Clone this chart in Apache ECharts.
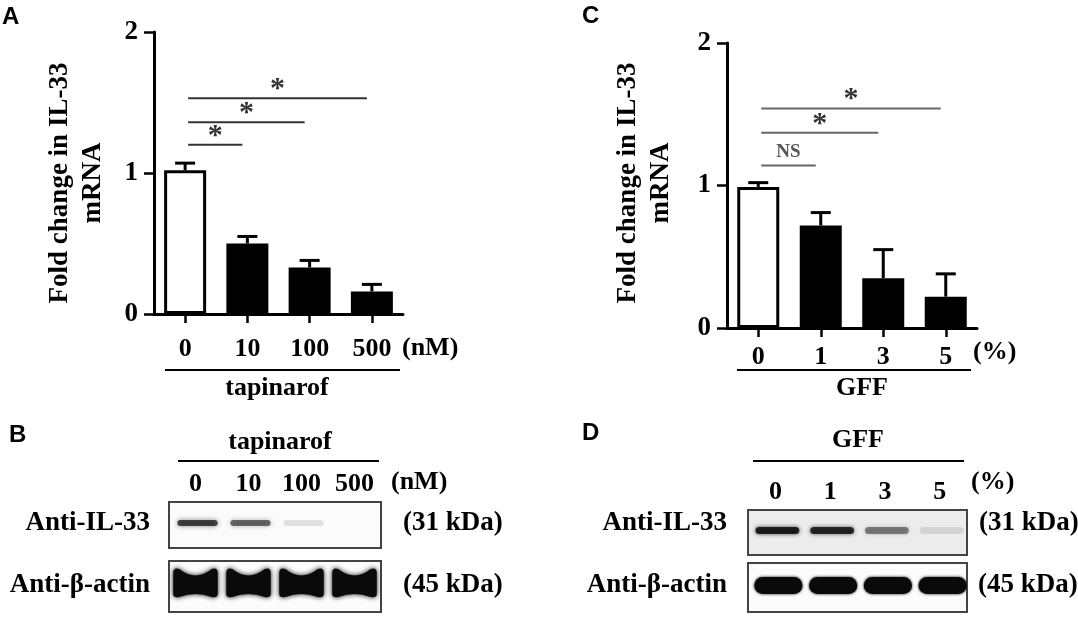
<!DOCTYPE html>
<html><head><meta charset="utf-8">
<script src="https://cdn.jsdelivr.net/npm/echarts@6.0.0/dist/echarts.min.js"></script>
<style>html,body{margin:0;padding:0;background:#fff}#c{width:1078px;height:624px}</style>
</head><body><div id="c"></div>
<script>
// ---- data ----
const catsA = ['0', '10', '100', '500'];
const meanA = [1.02, 0.50, 0.33, 0.16];
const semA = [0.05, 0.05, 0.05, 0.05];
const sigA = [[0, 1, 1.20, '*'], [0, 2, 1.36, '*'], [0, 3, 1.53, '*']];
const catsC = ['0', '1', '3', '5'];
const meanC = [0.99, 0.72, 0.35, 0.22];
const semC = [0.03, 0.09, 0.20, 0.16];
const sigC = [[0, 1, 1.14, 'NS'], [0, 2, 1.37, '*'], [0, 3, 1.54, '*']];
const yTicks = [0, 1, 2];
const lanesB = ['0', '10', '100', '500'];
const il33B = [0.7, 0.55, 0.1, 0.0];
const actinB = [1, 1, 1, 1];
const lanesD = ['0', '1', '3', '5'];
const il33D = [0.85, 0.8, 0.45, 0.1];
const actinD = [1, 1, 1, 1];

// ---- styling ----
const SERIF = '"Liberation Serif","Times New Roman",serif';
const SANS = '"Liberation Sans",Arial,sans-serif';
const chart = echarts.init(document.getElementById('c'));

function valueAxis(gi, margin) {
  return {
    type: 'value', gridIndex: gi, min: yTicks[0], max: yTicks[yTicks.length - 1],
    interval: yTicks[1] - yTicks[0],
    axisLine: {show: true, lineStyle: {color: '#000', width: 3}},
    axisTick: {show: true, length: 10, lineStyle: {color: '#000', width: 2.5}},
    axisLabel: {color: '#000', fontFamily: SERIF, fontWeight: 'bold', fontSize: 27, margin: margin},
    splitLine: {show: false}
  };
}
function catAxis(gi, cats, margin) {
  return {
    type: 'category', gridIndex: gi, data: cats,
    axisLine: {show: true, lineStyle: {color: '#000', width: 3}},
    axisTick: {show: true, alignWithLabel: true, length: 9, lineStyle: {color: '#000', width: 2.5}},
    axisLabel: {color: '#000', fontFamily: SERIF, fontWeight: 'bold', fontSize: 26, margin: margin, interval: 0},
    splitLine: {show: false}
  };
}
function laneAxis(gi, cats, show) {
  return {
    type: 'category', gridIndex: gi, data: cats, position: 'top', show: show,
    axisLine: {show: false}, axisTick: {show: false},
    axisLabel: {color: '#000', fontFamily: SERIF, fontWeight: 'bold', fontSize: 26, margin: 5, interval: 0}
  };
}
function blotY(gi) { return {type: 'value', gridIndex: gi, min: 0, max: 1, show: false}; }

function barSeries(gi, mean) {
  return {
    type: 'bar', xAxisIndex: gi, yAxisIndex: gi, barWidth: 42,
    data: mean.map((v, i) => ({
      value: v,
      itemStyle: i === 0 ? {color: '#fff', borderColor: '#000', borderWidth: 3} : {color: '#000'}
    }))
  };
}
function errSeries(gi, mean, sem) {
  return {
    type: 'custom', xAxisIndex: gi, yAxisIndex: gi, clip: false,
    data: mean.map((v, i) => [i, v, sem[i]]), encode: {x: 0, y: 1},
    renderItem: function (params, api) {
      const i = api.value(0), v = api.value(1), e = api.value(2);
      const p0 = api.coord([i, v]), p1 = api.coord([i, v + e]);
      const st = {stroke: '#000', lineWidth: 3};
      return {type: 'group', children: [
        {type: 'line', shape: {x1: p0[0], y1: p0[1], x2: p1[0], y2: p1[1]}, style: st},
        {type: 'line', shape: {x1: p1[0] - 10, y1: p1[1], x2: p1[0] + 10, y2: p1[1]}, style: st}
      ]};
    }
  };
}
function sigSeries(gi, sig, color) {
  return {
    type: 'custom', xAxisIndex: gi, yAxisIndex: gi, clip: false,
    data: sig.map(s => [s[0], s[1], s[2]]), encode: {x: [0, 1], y: 2},
    renderItem: function (params, api) {
      const a = api.coord([api.value(0), api.value(2)]);
      const b = api.coord([api.value(1), api.value(2)]);
      const x1 = a[0] + 3, x2 = b[0] - 5, y = a[1];
      const lab = sig[params.dataIndex][3];
      const isNS = lab === 'NS';
      return {type: 'group', children: [
        {type: 'line', shape: {x1: x1, y1: y, x2: x2, y2: y}, style: {stroke: color, lineWidth: 2}},
        {type: 'text', x: (x1 + x2) / 2, y: isNS ? y - 13 : y + 6,
          style: {text: lab, fill: isNS ? '#555' : '#333',
            font: isNS ? 'bold 19px ' + SERIF : 'bold 30px ' + SERIF,
            align: 'center', verticalAlign: isNS ? 'middle' : 'bottom',
            textAlign: 'center', textVerticalAlign: isNS ? 'middle' : 'bottom'}}
      ]};
    }
  };
}
function blotSeries(gi, vals, o) {
  return {
    type: 'custom', xAxisIndex: gi, yAxisIndex: gi, clip: true,
    data: vals.map((v, i) => [i, v]), encode: {x: 0, y: 1},
    renderItem: function (params, api) {
      const i = api.value(0), v = api.value(1);
      const c = api.coord([i, 0.5]);
      const w = api.size([1, 0])[0];
      const bw = w * o.wf, cx = c[0] + o.dx, cy = c[1] + o.dy, h = o.h;
      const col = 'rgba(10,10,10,' + v + ')';
      if (o.thin) {
        return {type: 'rect', shape: {x: cx - bw / 2, y: cy - h / 2, width: bw, height: h, r: h / 2},
          style: {fill: col, shadowBlur: o.blur, shadowColor: col}};
      }
      const x0 = cx - bw / 2, x1 = cx + bw / 2, y0 = cy - h / 2, y1 = cy + h / 2;
      const path = 'M' + x0 + ' ' + (y0 + 3) + ' Q' + x0 + ' ' + (y0 - 3) + ' ' + (x0 + 6) + ' ' + (y0 - 1) +
        ' Q' + cx + ' ' + (y0 + o.bow * 2) + ' ' + (x1 - 6) + ' ' + (y0 - 1) +
        ' Q' + x1 + ' ' + (y0 - 3) + ' ' + x1 + ' ' + (y0 + 3) +
        ' L' + x1 + ' ' + (y1 - 3) + ' Q' + x1 + ' ' + (y1 + 1) + ' ' + (x1 - 6) + ' ' + y1 +
        ' Q' + cx + ' ' + (y1 - o.bow) + ' ' + (x0 + 6) + ' ' + y1 +
        ' Q' + x0 + ' ' + (y1 + 1) + ' ' + x0 + ' ' + (y1 - 3) + ' Z';
      return {type: 'path', shape: {pathData: path},
        style: {fill: col, shadowBlur: o.blur, shadowColor: col}};
    }
  };
}

function txt(x, y, text, font, align, extra) {
  return Object.assign({type: 'text', x: x, y: y, silent: true,
    style: {text: text, font: font, fill: '#000', align: align || 'center', verticalAlign: 'middle',
      textAlign: align || 'center', textVerticalAlign: 'middle', lineHeight: 33}}, extra || {});
}
function hline(x1, x2, y, w, c) {
  return {type: 'line', silent: true, shape: {x1: x1, y1: y, x2: x2, y2: y}, style: {stroke: c || '#000', lineWidth: w || 2}};
}
const F26 = 'bold 26px ' + SERIF, F27 = 'bold 27px ' + SERIF, FL = 'bold 24px ' + SANS;
const boxStyle = {show: true, borderColor: '#444', borderWidth: 2};

const option = {
  animation: false,
  backgroundColor: '#fff',
  grid: [
    {left: 154, top: 32, width: 249, height: 282},
    {left: 727, top: 43, width: 250, height: 285},
    Object.assign({left: 169, top: 502, width: 212, height: 46, backgroundColor: '#fbfbfb'}, boxStyle),
    Object.assign({left: 169, top: 561, width: 212, height: 51, backgroundColor: '#fcfcfc'}, boxStyle),
    Object.assign({left: 748, top: 510, width: 219, height: 45, backgroundColor: '#ececec'}, boxStyle),
    Object.assign({left: 748, top: 563, width: 219, height: 49, backgroundColor: '#fcfcfc'}, boxStyle)
  ],
  xAxis: [
    catAxis(0, catsA, 22), catAxis(1, catsC, 16),
    laneAxis(2, lanesB, true), laneAxis(3, lanesB, false),
    laneAxis(4, lanesD, true), laneAxis(5, lanesD, false)
  ],
  yAxis: [valueAxis(0, 16), valueAxis(1, 16), blotY(2), blotY(3), blotY(4), blotY(5)],
  series: [
    barSeries(0, meanA), errSeries(0, meanA, semA), sigSeries(0, sigA, '#333'),
    barSeries(1, meanC), errSeries(1, meanC, semC), sigSeries(1, sigC, '#666'),
    blotSeries(2, il33B, {thin: true, wf: 0.76, h: 6, dx: 2, dy: -2, blur: 5}),
    blotSeries(3, actinB, {thin: false, wf: 0.84, h: 27, dx: 0, dy: -3, bow: 6, blur: 5}),
    blotSeries(4, il33D, {thin: true, wf: 0.8, h: 7, dx: 2, dy: -2, blur: 4}),
    blotSeries(5, actinD, {thin: true, wf: 0.88, h: 17, dx: 3, dy: -2, blur: 3})
  ],
  graphic: [
    txt(2, 17, 'A', FL, 'left'), txt(582, 16, 'C', FL, 'left'),
    txt(9, 435, 'B', FL, 'left'), txt(582, 433, 'D', FL, 'left'),
    txt(76.5, 183, 'Fold change in IL-33\nmRNA', F27, 'center', {rotation: Math.PI / 2}),
    txt(645, 183, 'Fold change in IL-33\nmRNA', F27, 'center', {rotation: Math.PI / 2}),
    txt(402, 348, '(nM)', F26, 'left'),
    hline(165, 400, 370, 2),
    txt(277, 388, 'tapinarof', F26),
    txt(973, 352, '(%)', F26, 'left'),
    hline(737, 971, 370, 2),
    txt(862, 388, 'GFF', F26),
    txt(280, 442, 'tapinarof', F26),
    hline(178, 379, 461, 2),
    txt(391, 482, '(nM)', F26, 'left'),
    txt(150, 523, 'Anti-IL-33', F27, 'right'),
    txt(150, 585, 'Anti-β-actin', F27, 'right'),
    txt(403, 523, '(31 kDa)', F27, 'left'),
    txt(403, 585, '(45 kDa)', F27, 'left'),
    txt(858, 440, 'GFF', F26),
    hline(753, 964, 461, 2),
    txt(971, 482, '(%)', F26, 'left'),
    txt(727, 523, 'Anti-IL-33', F27, 'right'),
    txt(727, 585, 'Anti-β-actin', F27, 'right'),
    txt(979, 523, '(31 kDa)', F27, 'left'),
    txt(978, 585, '(45 kDa)', F27, 'left')
  ]
};
chart.setOption(option);
</script>
</body></html>
